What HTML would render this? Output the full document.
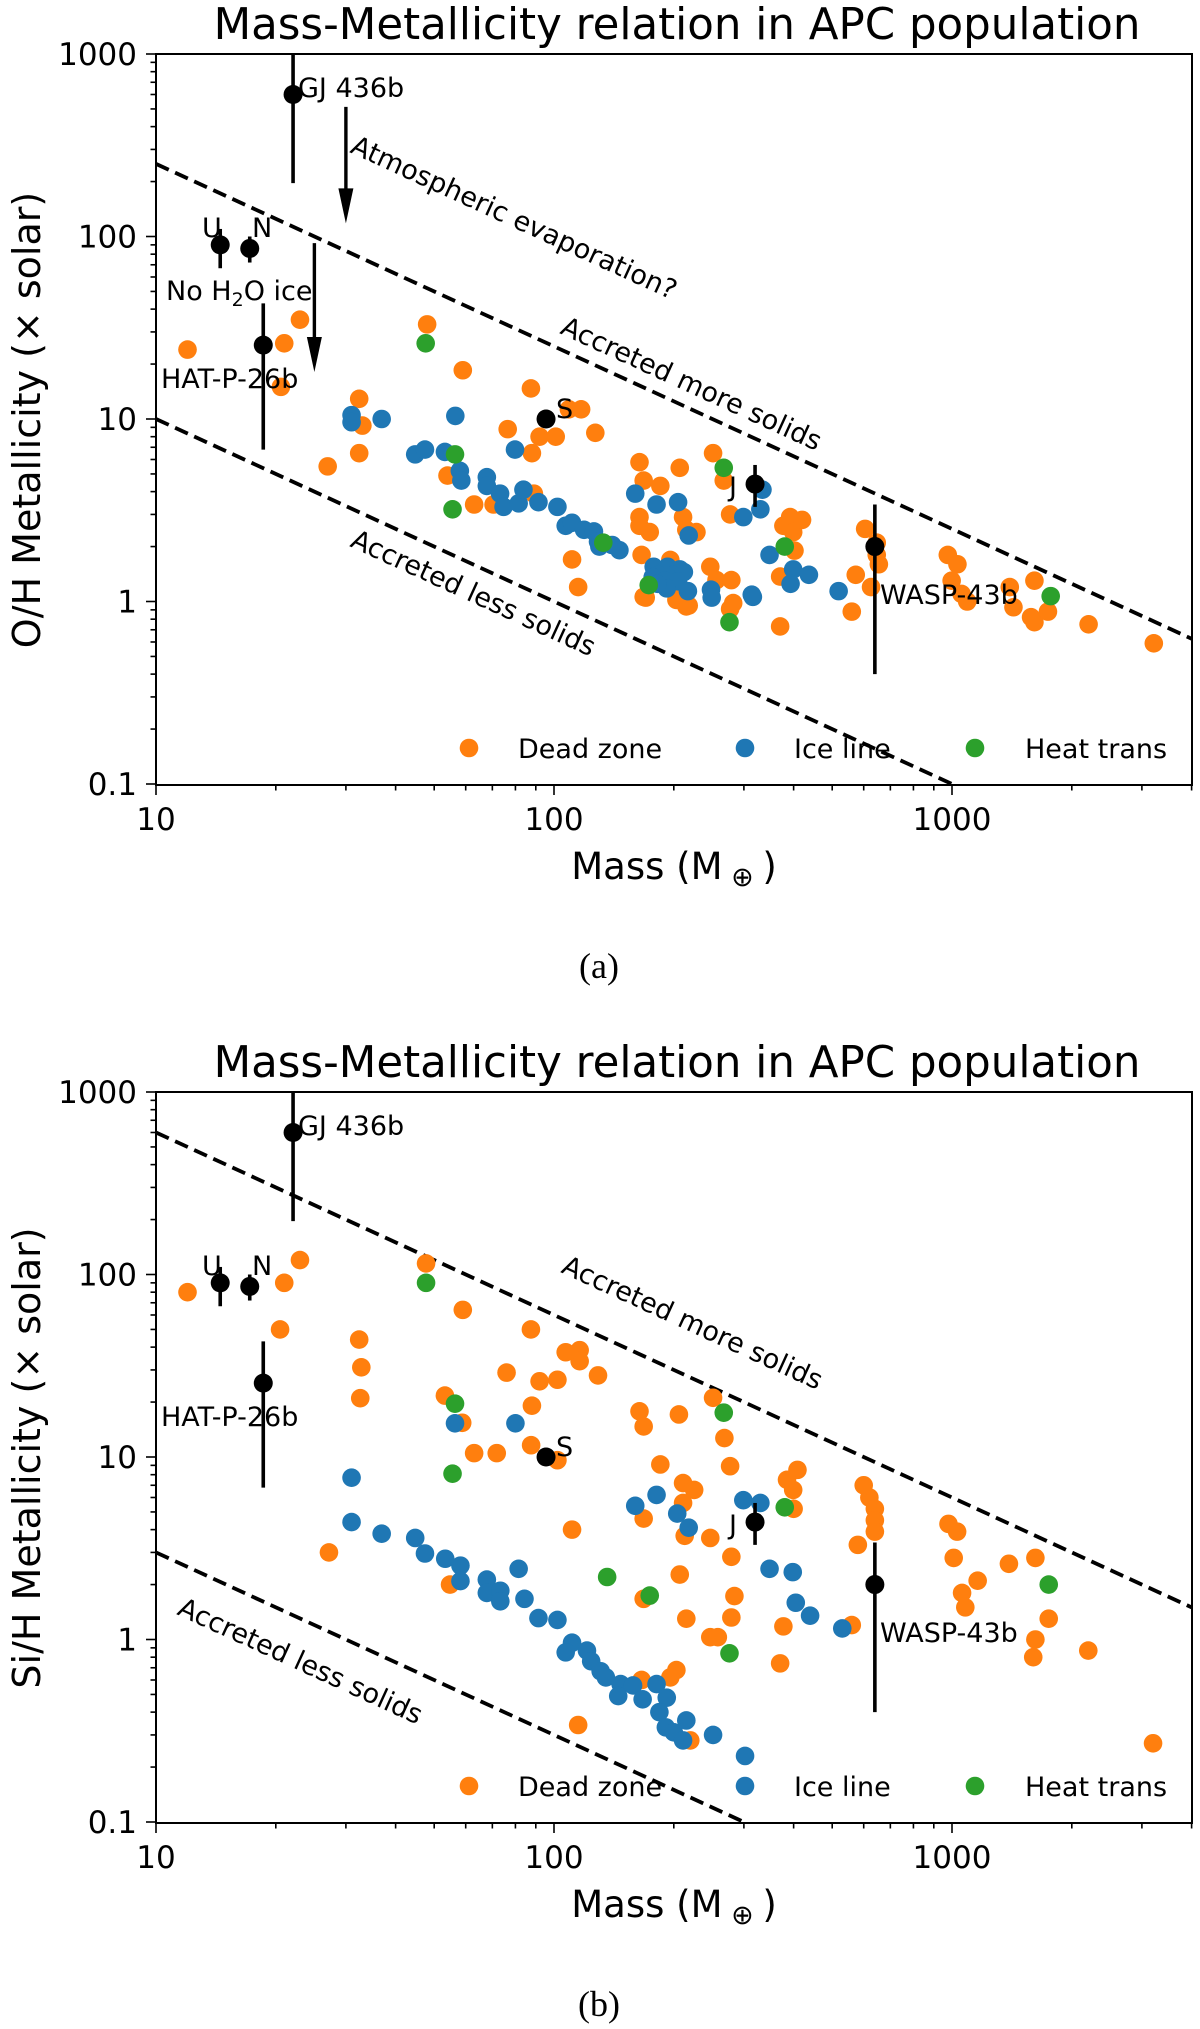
<!DOCTYPE html>
<html><head><meta charset="utf-8">
<style>
html,body{margin:0;padding:0;background:#fff;}
svg{display:block;}
text{font-family:"DejaVu Sans","Liberation Sans",sans-serif;fill:#000;}
.cap{font-family:"Liberation Serif",serif;}
</style></head>
<body>
<svg id="fig" xmlns="http://www.w3.org/2000/svg" width="1200" height="2029" viewBox="0 0 1200 2029"></svg>
<script>
// ---------- Panel (a): O/H ----------
const ohDeadMass=[12,21,23,20.6,48,59,32.4,33,32.4,27,54,63,70.5,89,76.5,87.5,92,101,109,117,127,88,111,115,164,168,185,207,251,267,277,164,164,174,211,215,228,166,168,196,203,215,247,256,279,282,277,370,392,377,399,370,420,402,605,647,655,647,573,626,560,976,1032,998,1057,1092,1397,1427,1611,1611,1742,2204,3214,1580,170,204,218];
const ohDeadZ=[24,26,35,15,33,18.5,12.9,9.2,6.5,5.5,4.9,3.4,3.4,3.9,8.8,14.7,8,8,11.3,11.3,8.4,6.5,1.7,1.2,5.8,4.6,4.3,5.4,6.5,4.6,3.0,2.9,2.6,2.4,2.9,2.47,2.4,1.8,1.06,1.69,1.02,0.94,1.55,1.31,1.31,0.98,0.91,0.73,2.9,2.6,2.4,1.37,2.8,1.9,2.5,2.1,1.6,1.8,1.4,1.2,0.88,1.8,1.6,1.3,1.1,1.0,1.2,0.93,1.3,0.77,0.88,0.75,0.59,0.82,1.05,1.04,0.95];
const ohIceMass=[31,31,36.9,56.5,44.8,47.4,53.2,58,58.5,67.8,67.8,73.2,74.7,81.5,83.8,91.4,102,107,111,119,126,129,140,146,130,79.8,160,181,205,218,299,330,334,348,399,437,393,519,316,178,193,207,183,199,212,177,190,205,248,249,217,192,182,314];
const ohIceZ=[10.5,9.6,10,10.4,6.4,6.8,6.6,5.2,4.6,4.8,4.3,3.9,3.3,3.45,4.1,3.5,3.3,2.6,2.7,2.47,2.42,2.13,2.04,1.91,2.0,6.8,3.9,3.4,3.5,2.3,2.9,3.2,4.1,1.8,1.5,1.4,1.25,1.14,1.06,1.55,1.55,1.5,1.4,1.4,1.45,1.36,1.3,1.29,1.16,1.05,1.14,1.18,1.25,1.09];
const ohHeatMass=[47.6,56.4,55.6,173,276,267,380,1770,133];
const ohHeatZ=[26,6.4,3.2,1.23,0.77,5.4,2.0,1.07,2.1];

// ---------- Panel (b): Si/H ----------
const siDeadMass=[12,23,21,20.5,47.7,59,87.5,32.4,32.8,32.6,107,116,116,129,76,92,102,53.2,58.8,88,87.6,63,71.8,102,27.2,54.8,111,168,115,164,168,206,251,268,277,185,211,225,211,168,213,247,279,207,284,215,279,247,258,166,203,196,377,370,385,409,399,220,600,620,640,640,640,580,560,400,980,1030,1010,1060,1080,1160,1390,1620,1750,1620,1600,2200,3200];
const siDeadZ=[80,120,90,50,115,64,50,44,31,21,37.5,38.5,33.5,28,29,26,26.5,21.7,15.4,19.1,11.6,10.5,10.5,9.6,3.0,2.0,4.0,1.67,0.34,17.8,14.7,17.1,21.1,12.7,8.9,9.1,7.2,6.6,5.6,4.6,3.7,3.6,2.84,2.27,1.73,1.3,1.32,1.03,1.03,0.6,0.68,0.62,1.18,0.74,7.5,8.5,6.6,0.28,7.0,6.0,5.2,4.5,3.9,3.3,1.2,5.2,4.3,3.9,2.8,1.8,1.5,2.1,2.6,2.8,1.3,1.0,0.8,0.87,0.27];
const siIceMass=[31,31,36.9,44.8,47.4,53.3,58.2,58.2,67.8,67.8,73.3,73.3,81.5,84.3,91.4,102,111,107,121,124,131,135,147,145,181,192,56.4,80,160,181,204,218,299,330,348,398,405,440,530,184,191,200,211,215,251,302,158,167];
const siIceZ=[7.7,4.4,3.8,3.6,2.96,2.77,2.54,2.09,2.13,1.8,1.85,1.62,2.44,1.67,1.31,1.28,0.96,0.85,0.87,0.76,0.67,0.62,0.57,0.49,0.57,0.48,15.3,15.3,5.4,6.2,4.9,4.1,5.8,5.6,2.44,2.34,1.59,1.35,1.15,0.4,0.33,0.31,0.28,0.36,0.30,0.23,0.56,0.47];
const siHeatMass=[47.7,55.6,56.4,136,174,267,276,380,1750];
const siHeatZ=[90,8.1,19.6,2.2,1.74,17.5,0.84,5.3,2.0];

// ---------- Observed planets (shared) ----------
const obsNames=["U","N","GJ 436b","HAT-P-26b","S","J","WASP-43b"];
const obsMass=[14.5,17.2,22.1,18.6,95.5,320,640];
const obsZ=[90,86,600,25.4,10,4.4,2.0];
const obsLo=[67,72,196,6.8,10,3.3,0.40];
const obsHi=[110,100,3000,43,10,5.6,3.4];

const xTickVals=[10,100,1000];
const xTickLabels=["10","100","1000"];
const yTickVals=[0.1,1,10,100,1000];
const yTickLabels=["0.1","1","10","100","1000"];

// ---------- layout ----------
const NS="http://www.w3.org/2000/svg";
const svg=document.getElementById('fig');
const L=156,R=1192,TOP=54,H=731,DX=398,DY=182.5;
function X(m){return L+(Math.log10(m)-1)*DX;}
function Yf(oy){return function(z){return oy+TOP+(3-Math.log10(z))*DY;};}
function el(tag,attrs,parent){const e=document.createElementNS(NS,tag);for(const k in attrs)e.setAttribute(k,attrs[k]);(parent||svg).appendChild(e);return e;}
function txt(s,attrs,parent){const e=el('text',attrs,parent);e.textContent=s;return e;}
const COL={dead:"#ff7f0e",ice:"#1f77b4",heat:"#2ca02c"};
const ANG=Math.atan(DY/DX)*180/Math.PI;

function panel(oy,id,ylabel,dead,ice,heat,lines,rotTexts,arrows,caption){
  const Y=Yf(oy);
  const g=el('g',{});
  
  
  const cp=el('clipPath',{id:'clip'+id},g);
  el('rect',{x:L,y:oy+TOP,width:R-L,height:H},cp);
  const plot=el('g',{'clip-path':'url(#clip'+id+')'},g);
  
  
  lines.forEach(function(ln){
    const p=el('line',{x1:X(10),y1:Y(ln.k/10),x2:X(5000),y2:Y(ln.k/5000),stroke:'#000','stroke-width':3.8,'stroke-dasharray':'14 7'},plot);
    
    
  });
  const series=[[dead,COL.dead,'dead-zone-point'],[ice,COL.ice,'ice-line-point'],[heat,COL.heat,'heat-trans-point']];
  series.forEach(function(s){
    const ms=s[0][0],zs=s[0][1];
    for(let i=0;i<ms.length;i++){
      const c=el('circle',{cx:X(ms[i]),cy:Y(zs[i]),r:9.3,fill:s[1]},plot);
      
      
    }
  });
  for(let i=0;i<obsNames.length;i++){
    if(obsLo[i]!==obsHi[i]){
      const eb=el('line',{x1:X(obsMass[i]),x2:X(obsMass[i]),y1:Y(obsHi[i]),y2:Y(obsLo[i]),stroke:'#000','stroke-width':3.6},plot);
      
      
    }
    const c=el('circle',{cx:X(obsMass[i]),cy:Y(obsZ[i]),r:9.5,fill:'#000'},plot);
    
    
  }
  arrows.forEach(function(a){
    const x=X(a.m),y1=Y(a.z1),y2=Y(a.z2);
    const l=el('line',{x1:x,x2:x,y1:y1,y2:y2-30,stroke:'#000','stroke-width':3.4},g);
    
    
    const h=el('polygon',{points:(x-7.5)+','+(y2-35)+' '+(x+7.5)+','+(y2-35)+' '+x+','+y2,fill:'#000'},g);
    
    
  });
  const lab=[["U",202,237],["N",252,237],["GJ 436b",298,97],["HAT-P-26b",161,388],["S",556,418],["J",729,496],["WASP-43b",880,604]];
  lab.forEach(function(t){
    const e=txt(t[0],{x:t[1],y:t[2]+oy,'font-size':27},g);
    
    
  });
  if(id==='a'){
    const e=txt('',{x:166,y:300,'font-size':27},g);
    
    
    e.innerHTML='No H<tspan font-size="19" dy="6">2</tspan><tspan dy="-6">O ice</tspan>';
  }
  rotTexts.forEach(function(t){
    const e=txt(t.s,{x:t.x,y:t.y+oy,'font-size':27,transform:'rotate('+ANG+' '+t.x+' '+(t.y+oy)+')'},g);
    
    
  });
  const fr=el('rect',{x:L,y:oy+TOP,width:R-L,height:H,fill:'none',stroke:'#000','stroke-width':2},g);
  
  
  const bot=oy+TOP+H;
  for(let d=1;d<=4;d++){for(let k=1;k<10;k++){const v=k*Math.pow(10,d);if(v<10||v>4010)continue;
    const major=(k===1);
    const t=el('line',{x1:X(v),x2:X(v),y1:bot,y2:bot+(major?10:5.5),stroke:'#000','stroke-width':1.6},g);
    
    
  }}
  for(let i=0;i<xTickVals.length;i++){
    const e=txt(xTickLabels[i],{x:X(xTickVals[i]),y:bot+45,'font-size':31,'text-anchor':'middle'},g);
    
    
  }
  for(let d=-1;d<=3;d++){for(let k=1;k<10;k++){const v=k*Math.pow(10,d);if(v>1000)continue;
    const major=(k===1);
    const t=el('line',{x1:L,x2:L-(major?10:5.5),y1:Y(v),y2:Y(v),stroke:'#000','stroke-width':1.6},g);
    
    
  }}
  for(let i=0;i<yTickVals.length;i++){
    const e=txt(yTickLabels[i],{x:137,y:Y(yTickVals[i])+11,'font-size':31,'text-anchor':'end'},g);
    
    
  }
  const ti=txt('Mass-Metallicity relation in APC population',{x:677,y:oy+39,'font-size':43.5,'text-anchor':'middle'},g);
  
  
  const xl=txt('',{x:674,y:oy+879,'font-size':37,'text-anchor':'middle'},g);
  
  
  xl.innerHTML='Mass (M<tspan font-size="27" dy="7"> ⊕ </tspan><tspan dy="-7">)</tspan>';
  const yl=txt(ylabel,{x:40,y:oy+420,'font-size':38,'text-anchor':'middle',transform:'rotate(-90 40 '+(oy+420)+')'},g);
  
  
  const leg=[[469,518,COL.dead,'Dead zone'],[745,794,COL.ice,'Ice line'],[975,1025,COL.heat,'Heat trans']];
  leg.forEach(function(l){
    const c=el('circle',{cx:l[0],cy:oy+748,r:9.3,fill:l[2]},g);
    
    
    const t=txt(l[3],{x:l[1],y:oy+758,'font-size':27},g);
    
    
  });
  const cpn=txt(caption,{x:599,y:oy+978,'font-size':36,'text-anchor':'middle','class':'cap'},g);
  
  
}

panel(0,'a','O/H Metallicity (× solar)',[ohDeadMass,ohDeadZ],[ohIceMass,ohIceZ],[ohHeatMass,ohHeatZ],
  [{k:2500,name:'more-solids-line'},{k:100,name:'less-solids-line'}],
  [{s:'Atmospheric evaporation?',x:349,y:152,name:'evaporation-label'},
   {s:'Accreted more solids',x:559,y:333,name:'more-solids-label'},
   {s:'Accreted less solids',x:349,y:546,name:'less-solids-label'}],
  [{m:30,z1:513,z2:118},{m:25,z1:92,z2:18.1}],'(a)');
panel(1038,'b','Si/H Metallicity (× solar)',[siDeadMass,siDeadZ],[siIceMass,siIceZ],[siHeatMass,siHeatZ],
  [{k:6000,name:'more-solids-line'},{k:30,name:'less-solids-line'}],
  [{s:'Accreted more solids',x:560,y:234,name:'more-solids-label'},
   {s:'Accreted less solids',x:176,y:576,name:'less-solids-label'}],
  [],'(b)');
</script>
</body></html>
